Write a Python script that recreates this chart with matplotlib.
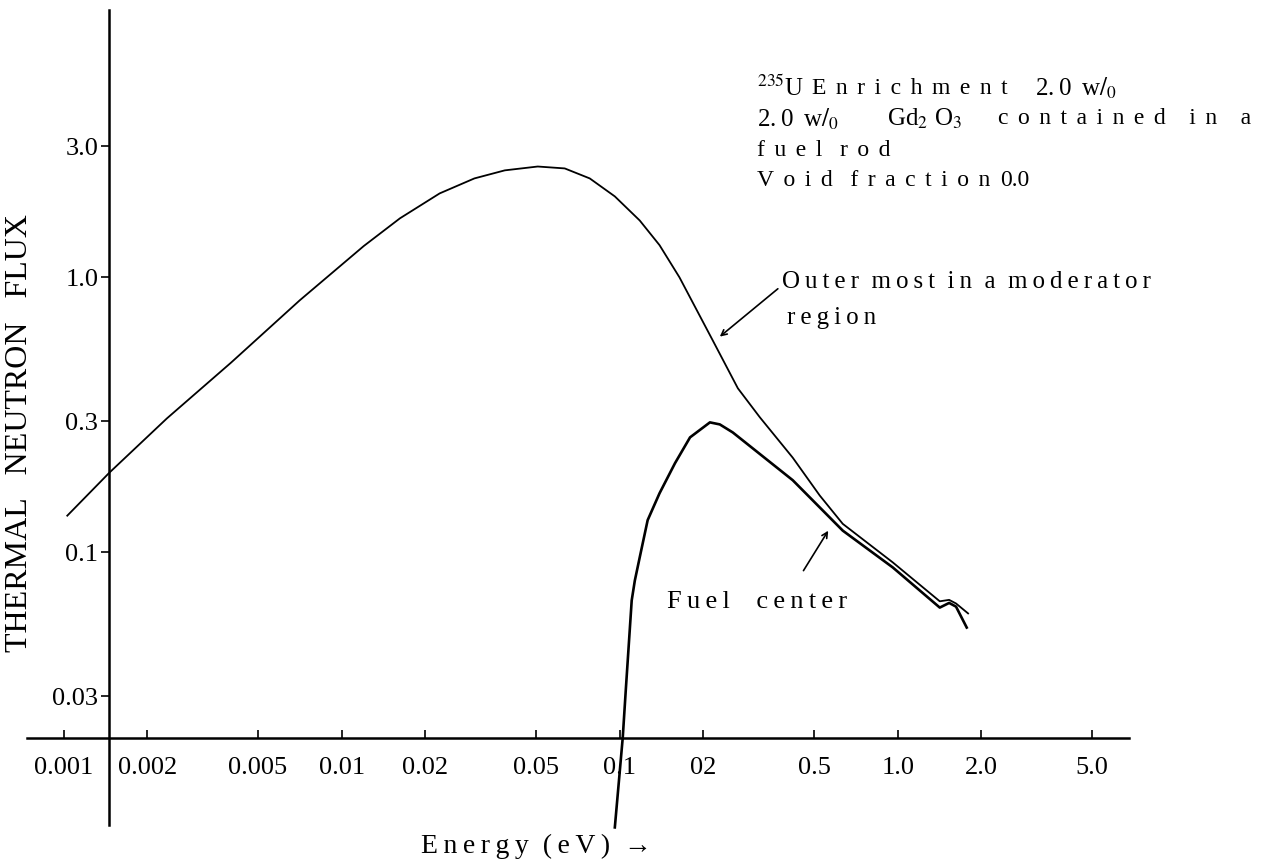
import matplotlib
matplotlib.use('Agg')
import matplotlib.pyplot as plt

# energy (eV) and flux values
outer_energy = [0.00103, 0.00146, 0.00235, 0.0040, 0.00706, 0.012, 0.0162, 0.0225, 0.030,
                0.0386, 0.0507, 0.0634, 0.078, 0.096, 0.118, 0.139, 0.164, 0.216, 0.266,
                0.319, 0.419, 0.524, 0.634, 0.959, 1.416, 1.53, 1.62, 1.79]
outer_flux = [0.136, 0.195, 0.307, 0.49, 0.825, 1.30, 1.64, 2.02, 2.29,
              2.45, 2.53, 2.49, 2.29, 1.97, 1.61, 1.31, 1.00, 0.59, 0.395,
              0.31, 0.221, 0.161, 0.127, 0.092, 0.0664, 0.0672, 0.0652, 0.060]

fuel_energy = [0.0960, 0.1025, 0.1051, 0.1104, 0.1133, 0.118, 0.126, 0.139, 0.158,
               0.179, 0.211, 0.229, 0.255, 0.419, 0.634, 0.959, 1.416, 1.53, 1.62, 1.77]
fuel_flux = [0.0100, 0.0212, 0.0315, 0.0669, 0.079, 0.096, 0.131, 0.164, 0.211,
             0.262, 0.297, 0.292, 0.273, 0.183, 0.120, 0.0882, 0.063, 0.0655, 0.0635, 0.0533]

xticks = [0.001, 0.002, 0.005, 0.01, 0.02, 0.05, 0.1, 0.2, 0.5, 1.0, 2.0, 5.0]
xticklabels = ["0.001", "0.002", "0.005", "0.01", "0.02", "0.05", "0.1", "02",
               "0.5", "1.0", "2.0", "5.0"]
yticks = [0.03, 0.1, 0.3, 1.0, 3.0]
yticklabels = ["0.03", "0.1", "0.3", "1.0", "3.0"]

plt.rcParams['font.family'] = ['Liberation Serif', 'DejaVu Serif']
plt.rcParams['mathtext.fontset'] = 'stix'

THIN = '\u2009'
G2 = THIN * 2


# spread letters of each word, like the typewriter lettering of the scan
def spread(s, gap=THIN, wgap='  '):
    return wgap.join(gap.join(w) for w in s.split(' '))


W, H = 1284, 865
fig = plt.figure(figsize=(W / 100, H / 100), dpi=100)
ax = fig.add_axes([0, 0, 1, 1])
ax.set_xscale('log')
ax.set_yscale('log')
ax.set_xlim(5.9e-4, 24.5)
ax.set_ylim(7.3e-3, 10.2)
ax.patch.set_alpha(0)

ax.plot(outer_energy, outer_flux, color='black', lw=1.3)
ax.plot(fuel_energy, fuel_flux, color='black', lw=1.9)

# hand drawn axes crossing inside the plot
ax.spines['top'].set_visible(False)
ax.spines['right'].set_visible(False)
ax.spines['left'].set_position(('data', 0.00146))
ax.spines['left'].set_bounds(0.0102, 9.35)
ax.spines['bottom'].set_position(('data', 0.0212))
ax.spines['bottom'].set_bounds(0.00074, 6.8)
for sp in ('left', 'bottom'):
    ax.spines[sp].set_linewidth(1.8)

ax.minorticks_off()
ax.set_xticks(xticks)
ax.set_xticklabels(xticklabels)
ax.set_yticks(yticks)
ax.set_yticklabels(yticklabels)
ax.tick_params(axis='x', direction='in', length=6, width=1.2, pad=14, labelsize=19)
ax.tick_params(axis='y', direction='out', length=6, width=1.2, pad=2, labelsize=19)

fig.text(20 / W, 1 - 433 / H, 'THERMAL   NEUTRON   FLUX',
         rotation=90, ha='center', va='center', fontsize=23)
fig.text(536 / W, 1 - 846 / H, spread('Energy (eV) →'), ha='center', va='center',
         fontsize=20)

# condition block, upper right
fs = 17
y0, dy = 88, 31
wo = '2.' + THIN + '0' + G2 + r'w$/_{0}$'
fig.text(757 / W, 1 - y0 / H, r'$^{235}$U', ha='left', va='center', fontsize=fs + 1)
fig.text(812 / W, 1 - y0 / H, spread('Enrichment', gap=G2), ha='left', va='center',
         fontsize=fs)
fig.text(1035 / W, 1 - y0 / H, wo, ha='left', va='center', fontsize=fs + 1)
fig.text(757 / W, 1 - (y0 + dy) / H, wo, ha='left', va='center', fontsize=fs + 1)
fig.text(887 / W, 1 - (y0 + dy) / H, r'Gd$_{2}$ O$_{3}$', ha='left', va='center',
         fontsize=fs + 1)
fig.text(998 / W, 1 - (y0 + dy) / H, spread('contained in a', gap=G2, wgap='    '),
         ha='left', va='center', fontsize=fs)
fig.text(757 / W, 1 - (y0 + 2 * dy) / H, spread('fuel rod', gap=G2, wgap='   '),
         ha='left', va='center', fontsize=fs)
fig.text(757 / W, 1 - (y0 + 3 * dy) / H, spread('Void fraction', gap=G2, wgap='   '),
         ha='left', va='center', fontsize=fs)
fig.text(1000 / W, 1 - (y0 + 3 * dy) / H, '0.0', ha='left', va='center', fontsize=fs)

ax.annotate('', xy=(0.225, 0.60), xycoords='data', xytext=(780, H - 287),
            textcoords='figure pixels',
            arrowprops=dict(arrowstyle='->', color='black', lw=1.2))
fig.text(782 / W, 1 - 282 / H, spread('Outer most in a moderator'),
         ha='left', va='center', fontsize=18)
fig.text(787 / W, 1 - 318 / H, spread('region'), ha='left', va='center', fontsize=18)

ax.annotate('', xy=(0.569, 0.1223), xycoords='data', xytext=(802, H - 573),
            textcoords='figure pixels',
            arrowprops=dict(arrowstyle='->', color='black', lw=1.2))
fig.text(667 / W, 1 - 602 / H, spread('Fuel center', wgap='    '), ha='left',
         va='center', fontsize=19)

fig.savefig('out.png', dpi=100, facecolor='white')
